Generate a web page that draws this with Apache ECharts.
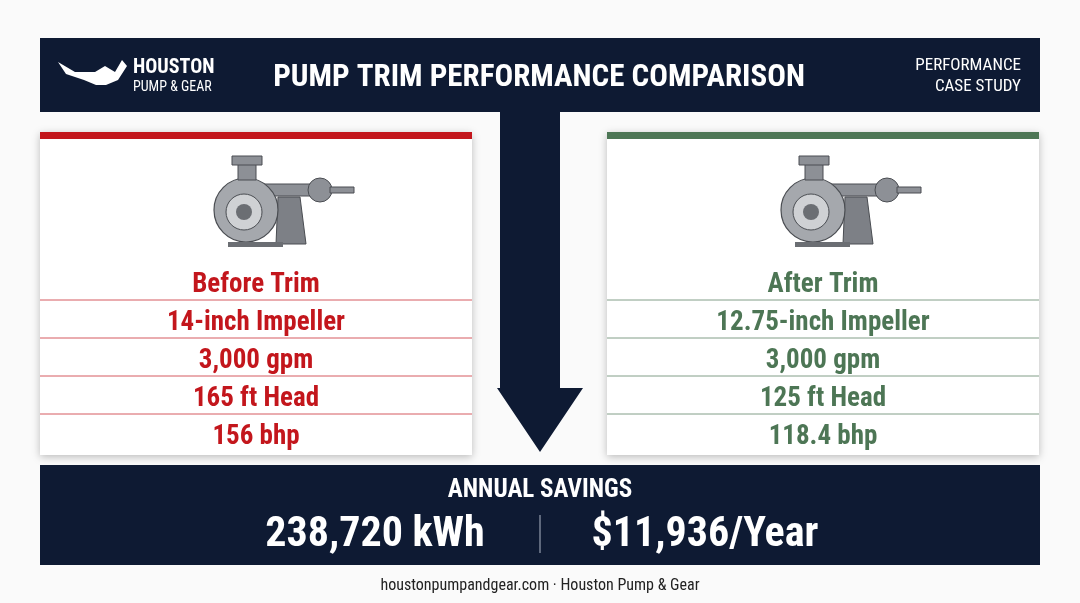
<!DOCTYPE html>
<html><head><meta charset="utf-8">
<script src="https://cdn.jsdelivr.net/npm/echarts@6/dist/echarts.min.js"></script>
<style>html,body{margin:0;padding:0;background:#fff}#c{width:1080px;height:603px}</style>
</head><body><div id="c"></div>
<script>
const title = "PUMP TRIM PERFORMANCE COMPARISON";
const beforeSpecs = ["Before Trim", "14-inch Impeller", "3,000 gpm", "165 ft Head", "156 bhp"];
const afterSpecs = ["After Trim", "12.75-inch Impeller", "3,000 gpm", "125 ft Head", "118.4 bhp"];
const savingsLabel = "ANNUAL SAVINGS";
const savingsValues = ["238,720 kWh", "$11,936/Year"];
const footer = "houstonpumpandgear.com · Houston Pump & Gear";

const NAVY = "#0e1a33", RED = "#c3161c", GREEN = "#4d7655";
const F = "'Liberation Sans Narrow','Roboto Condensed','Roboto',sans-serif";
const chart = echarts.init(document.getElementById('c'));
const g = [];
g.push({type:'rect',shape:{x:0,y:0,width:1080,height:603},style:{fill:'#fafafa'}});
g.push({type:'rect',shape:{x:40,y:38,width:1000,height:74},style:{fill:NAVY}});
g.push({type:'polygon',shape:{points:[[58,62],[75,72],[95,72],[105,66],[115,72],[122,60],[127,66],[118,80],[106,85],[96,85],[84,80],[66,74]]},style:{fill:'#fff'}});
g.push({type:'text',style:{x:133,y:68,text:'HOUSTON',fill:'#fff',font:'bold 20px '+F,verticalAlign:'middle'}});
g.push({type:'text',style:{x:133,y:87,text:'PUMP & GEAR',fill:'#fff',font:'14px '+F,verticalAlign:'middle'}});
g.push({type:'text',style:{x:539,y:78,text:title,fill:'#fff',font:'bold 31px '+F,align:'center',verticalAlign:'middle'}});
g.push({type:'text',style:{x:1021,y:66,text:'PERFORMANCE',fill:'#fff',font:'17px '+F,align:'right',verticalAlign:'middle'}});
g.push({type:'text',style:{x:1021,y:87,text:'CASE STUDY',fill:'#fff',font:'17px '+F,align:'right',verticalAlign:'middle'}});
g.push({type:'polygon',shape:{points:[[500,112],[560,112],[560,388],[583,388],[540,452],[497,388],[500,388]]},style:{fill:NAVY}});

function pump(cx,cy){
  const s={fill:'#8d9096',stroke:'#4a4d52',lineWidth:1};
  g.push({type:'rect',shape:{x:cx+5,y:cy-8,width:55,height:12},style:s});
  g.push({type:'circle',shape:{cx:cx+62,cy:cy-2,r:12},style:s});
  g.push({type:'rect',shape:{x:cx+72,y:cy-5,width:24,height:6},style:s});
  g.push({type:'polygon',shape:{points:[[cx+20,cy+5],[cx+42,cy+5],[cx+48,cy+52],[cx+18,cy+52]]},style:{fill:'#7d8086',stroke:'#4a4d52'}});
  g.push({type:'circle',shape:{cx:cx-12,cy:cy+18,r:32},style:{fill:'#a5a8ad',stroke:'#4a4d52',lineWidth:1.2}});
  g.push({type:'circle',shape:{cx:cx-14,cy:cy+20,r:18},style:{fill:'#cfd1d4',stroke:'#4a4d52'}});
  g.push({type:'circle',shape:{cx:cx-14,cy:cy+20,r:8},style:{fill:'#6b6e73'}});
  g.push({type:'rect',shape:{x:cx-20,y:cy-28,width:18,height:16},style:s});
  g.push({type:'rect',shape:{x:cx-26,y:cy-36,width:30,height:9},style:s});
  g.push({type:'rect',shape:{x:cx-30,y:cy+50,width:55,height:5},style:{fill:'#6b6e73'}});
}
function card(x,color,specs){
  g.push({type:'rect',shape:{x:x,y:132,width:432,height:323},style:{fill:'#fff',shadowBlur:8,shadowColor:'rgba(0,0,0,0.25)',shadowOffsetY:2}});
  g.push({type:'rect',shape:{x:x,y:132,width:432,height:7},style:{fill:color}});
  pump(x+218,192);
  const ys=[284,322,360,398,436];
  specs.forEach((t,i)=>{
    if(i>0) g.push({type:'line',shape:{x1:x,y1:ys[i]-22,x2:x+432,y2:ys[i]-22},style:{stroke:color,lineWidth:1,opacity:0.7}});
    g.push({type:'text',style:{x:x+216,y:ys[i]+1,text:t,fill:color,font:'bold 27px '+F,align:'center',verticalAlign:'middle'}});
  });
}
card(40,RED,beforeSpecs);
card(607,GREEN,afterSpecs);
g.push({type:'rect',shape:{x:40,y:465,width:1000,height:100},style:{fill:NAVY}});
g.push({type:'text',style:{x:540,y:491,text:savingsLabel,fill:'#fff',font:'bold 25px '+F,align:'center',verticalAlign:'middle'}});
g.push({type:'text',style:{x:375,y:535,text:savingsValues[0],fill:'#fff',font:'bold 42px '+F,align:'center',verticalAlign:'middle'}});
g.push({type:'text',style:{x:705,y:535,text:savingsValues[1],fill:'#fff',font:'bold 42px '+F,align:'center',verticalAlign:'middle'}});
g.push({type:'line',shape:{x1:540,y1:515,x2:540,y2:553},style:{stroke:'#7a8396',lineWidth:1.5}});
g.push({type:'text',style:{x:540,y:586,text:footer,fill:'#222',font:'16px '+F,align:'center',verticalAlign:'middle'}});
chart.setOption({animation:false,graphic:{elements:g}});
</script></body></html>
